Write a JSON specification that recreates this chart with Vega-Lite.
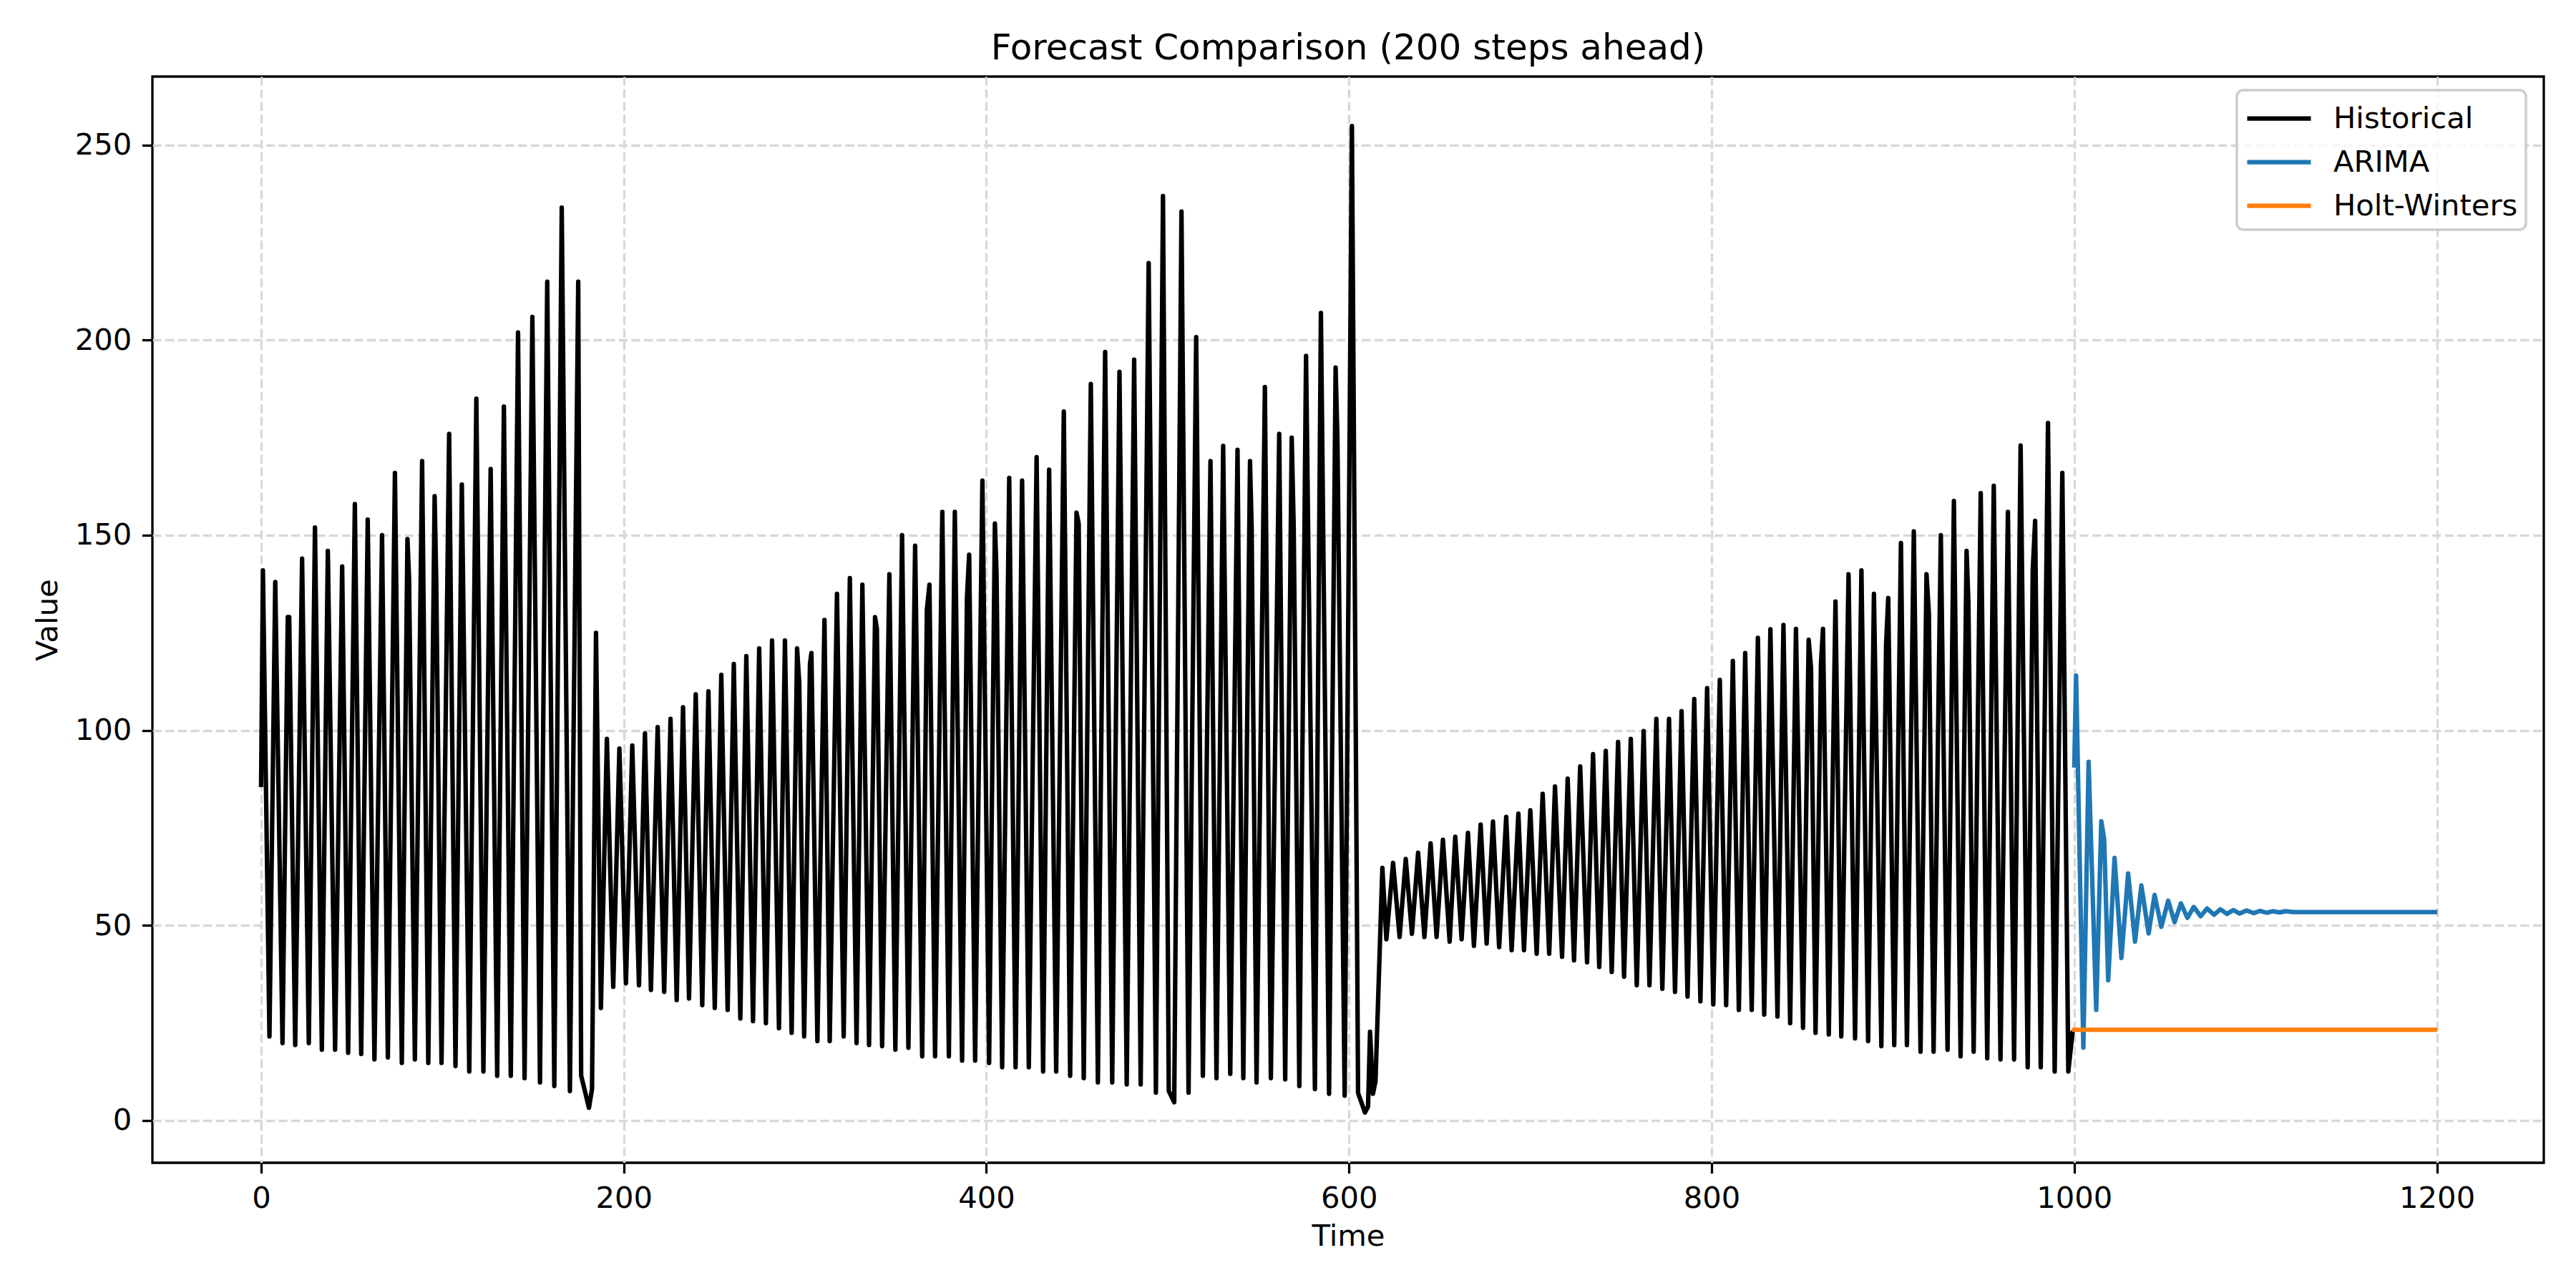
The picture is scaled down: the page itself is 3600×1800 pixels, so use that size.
{
  "$schema": "https://vega.github.io/schema/vega-lite/v6.json",
  "autosize": {"type": "none"},
  "padding": {"left": 213, "top": 107, "right": 45, "bottom": 175},
  "width": 3342,
  "height": 1518,
  "background": "white",
  "title": {
    "text": "Forecast Comparison (200 steps ahead)",
    "fontSize": 50,
    "font": "DejaVu Sans",
    "fontWeight": "normal",
    "color": "black",
    "anchor": "middle",
    "offset": 14
  },
  "layer": [
    {
      "data": {
        "values": [
          {"t": 0, "v": 86}, {"t": 1, "v": 141}, {"t": 4.6, "v": 21.5}, {"t": 7.8, "v": 138},
          {"t": 11.8, "v": 19.8}, {"t": 14.7, "v": 129}, {"t": 15.5, "v": 129}, {"t": 18.8, "v": 19.3},
          {"t": 22.6, "v": 144}, {"t": 26.3, "v": 19.8}, {"t": 29.7, "v": 152}, {"t": 33.5, "v": 18.1},
          {"t": 36.8, "v": 146}, {"t": 40.8, "v": 18.1}, {"t": 44.7, "v": 142}, {"t": 48, "v": 17.3},
          {"t": 51.7, "v": 158}, {"t": 55.2, "v": 17}, {"t": 58.8, "v": 154}, {"t": 62.5, "v": 15.6},
          {"t": 66.7, "v": 150}, {"t": 69.9, "v": 16.1}, {"t": 73.8, "v": 166}, {"t": 77.6, "v": 14.7},
          {"t": 80.7, "v": 149}, {"t": 81.6, "v": 139}, {"t": 84.8, "v": 15.6}, {"t": 88.8, "v": 169},
          {"t": 92.2, "v": 14.7}, {"t": 95.7, "v": 160}, {"t": 96.6, "v": 138}, {"t": 99.5, "v": 14.7},
          {"t": 103.7, "v": 176}, {"t": 107.2, "v": 13.9}, {"t": 110.7, "v": 163}, {"t": 114.8, "v": 12.5},
          {"t": 118.7, "v": 185}, {"t": 122.6, "v": 12.5}, {"t": 126.6, "v": 167}, {"t": 130.2, "v": 11.4},
          {"t": 133.9, "v": 183}, {"t": 137.7, "v": 11.4}, {"t": 141.7, "v": 202}, {"t": 145.3, "v": 10.8},
          {"t": 149.6, "v": 206}, {"t": 153.8, "v": 9.7}, {"t": 157.8, "v": 215}, {"t": 161.7, "v": 8.8},
          {"t": 165.8, "v": 234}, {"t": 170.3, "v": 7.5}, {"t": 174.9, "v": 215}, {"t": 176.5, "v": 11.5},
          {"t": 180.8, "v": 3.2}, {"t": 182.5, "v": 8}, {"t": 184.7, "v": 125}, {"t": 187.4, "v": 28.8},
          {"t": 190.7, "v": 97.8}, {"t": 194.2, "v": 34.2}, {"t": 197.6, "v": 95.3}, {"t": 201.2, "v": 35.1},
          {"t": 204.7, "v": 96.1}, {"t": 208.4, "v": 34.6}, {"t": 211.7, "v": 99.2}, {"t": 215, "v": 33.4},
          {"t": 218.7, "v": 100.8}, {"t": 222.3, "v": 32.9}, {"t": 225.8, "v": 102.9}, {"t": 229.2, "v": 30.8},
          {"t": 232.7, "v": 105.9}, {"t": 236, "v": 31.2}, {"t": 239.7, "v": 109.2}, {"t": 243.3, "v": 29.5},
          {"t": 246.7, "v": 110}, {"t": 250.2, "v": 28.8}, {"t": 253.8, "v": 114.2}, {"t": 257.3, "v": 28.3},
          {"t": 260.7, "v": 117}, {"t": 264.3, "v": 26.1}, {"t": 267.6, "v": 119}, {"t": 271.3, "v": 25.4},
          {"t": 274.7, "v": 121}, {"t": 278.4, "v": 24.9}, {"t": 281.8, "v": 123}, {"t": 285.6, "v": 23.6},
          {"t": 288.9, "v": 123}, {"t": 292.6, "v": 22.4}, {"t": 295.6, "v": 121}, {"t": 296.8, "v": 112},
          {"t": 299.5, "v": 21.5}, {"t": 302.7, "v": 117}, {"t": 303.5, "v": 119.8}, {"t": 306.8, "v": 20.3},
          {"t": 310.7, "v": 128.3}, {"t": 313.6, "v": 20.3}, {"t": 317.6, "v": 135}, {"t": 321.3, "v": 21.5},
          {"t": 324.7, "v": 139}, {"t": 328.4, "v": 19.8}, {"t": 331.6, "v": 137.3}, {"t": 335.3, "v": 19.3},
          {"t": 338.6, "v": 129}, {"t": 339.6, "v": 126}, {"t": 342.5, "v": 19}, {"t": 346.5, "v": 140},
          {"t": 349.8, "v": 18.1}, {"t": 353.5, "v": 150}, {"t": 357, "v": 18.6}, {"t": 360.7, "v": 147.3},
          {"t": 364.6, "v": 16.4}, {"t": 367.2, "v": 131}, {"t": 368.6, "v": 137.3}, {"t": 371.7, "v": 16.4},
          {"t": 375.7, "v": 156}, {"t": 379.3, "v": 16.4}, {"t": 382.6, "v": 156}, {"t": 386.6, "v": 15.3},
          {"t": 389.3, "v": 134}, {"t": 390.5, "v": 145}, {"t": 393.8, "v": 15.3}, {"t": 397.8, "v": 164},
          {"t": 401.5, "v": 14.7}, {"t": 404.7, "v": 153}, {"t": 405.6, "v": 140}, {"t": 408.7, "v": 13.6},
          {"t": 412.6, "v": 164.7}, {"t": 416.1, "v": 13.6}, {"t": 419.7, "v": 164}, {"t": 423.4, "v": 13.6},
          {"t": 427.7, "v": 170}, {"t": 431.3, "v": 12.5}, {"t": 434.6, "v": 166.8}, {"t": 438.5, "v": 12.5},
          {"t": 442.7, "v": 181.7}, {"t": 446.2, "v": 11.4}, {"t": 449.7, "v": 155.8}, {"t": 450.9, "v": 153},
          {"t": 453.7, "v": 10.8}, {"t": 457.6, "v": 188.8}, {"t": 461.5, "v": 9.7}, {"t": 465.5, "v": 197},
          {"t": 469.4, "v": 9.7}, {"t": 473.4, "v": 191.9}, {"t": 477.4, "v": 9.2}, {"t": 481.5, "v": 195},
          {"t": 485.1, "v": 9.2}, {"t": 489.5, "v": 219.8}, {"t": 493.5, "v": 7.1}, {"t": 497.4, "v": 237},
          {"t": 500.6, "v": 7.5}, {"t": 503.6, "v": 4.6}, {"t": 507.6, "v": 233}, {"t": 511.5, "v": 7.1},
          {"t": 515.7, "v": 200.8}, {"t": 519.4, "v": 11.4}, {"t": 523.6, "v": 169}, {"t": 526.9, "v": 10.8},
          {"t": 530.6, "v": 172.9}, {"t": 534.5, "v": 11.9}, {"t": 538.5, "v": 171.9}, {"t": 541.7, "v": 10.8},
          {"t": 545.4, "v": 169}, {"t": 546.3, "v": 152}, {"t": 549, "v": 9.7}, {"t": 553.6, "v": 188},
          {"t": 556.9, "v": 10.8}, {"t": 561.5, "v": 176}, {"t": 564.8, "v": 10.5}, {"t": 568.4, "v": 175},
          {"t": 569.5, "v": 152}, {"t": 572.6, "v": 8.8}, {"t": 576.3, "v": 196}, {"t": 581.2, "v": 8},
          {"t": 584.5, "v": 207}, {"t": 589, "v": 6.8}, {"t": 592.6, "v": 193}, {"t": 593.6, "v": 175},
          {"t": 597.6, "v": 6.3}, {"t": 601.6, "v": 254.9}, {"t": 605, "v": 7}, {"t": 608.8, "v": 2},
          {"t": 610.5, "v": 3.5}, {"t": 611.6, "v": 22.7}, {"t": 613.2, "v": 6.8}, {"t": 614.6, "v": 10},
          {"t": 618.4, "v": 64.7}, {"t": 620.6, "v": 46.4}, {"t": 624.3, "v": 66}, {"t": 627.9, "v": 47},
          {"t": 631.3, "v": 67}, {"t": 634.7, "v": 47.8}, {"t": 638.1, "v": 68.6}, {"t": 641.6, "v": 47},
          {"t": 645, "v": 71}, {"t": 648.3, "v": 47}, {"t": 651.8, "v": 71.9}, {"t": 655.5, "v": 45.8},
          {"t": 658.6, "v": 72.7}, {"t": 662.1, "v": 46.4}, {"t": 665.6, "v": 73.7}, {"t": 668.9, "v": 44.7},
          {"t": 672.6, "v": 75.8}, {"t": 675.9, "v": 45.3}, {"t": 679.4, "v": 76.6}, {"t": 682.8, "v": 44.4},
          {"t": 686.7, "v": 77.8}, {"t": 689.7, "v": 43.6}, {"t": 693.4, "v": 78.6}, {"t": 696.5, "v": 43.6},
          {"t": 700, "v": 79.5}, {"t": 703.5, "v": 42.7}, {"t": 706.8, "v": 83.7}, {"t": 710.4, "v": 42.7},
          {"t": 713.6, "v": 85.6}, {"t": 717.5, "v": 41.9}, {"t": 720.6, "v": 87.6}, {"t": 724.1, "v": 41},
          {"t": 727.5, "v": 90.7}, {"t": 731.3, "v": 40.5}, {"t": 734.6, "v": 93.9}, {"t": 738, "v": 39.3},
          {"t": 741.6, "v": 94.7}, {"t": 744.9, "v": 38}, {"t": 748.4, "v": 97}, {"t": 751.7, "v": 36.8},
          {"t": 755.4, "v": 97.8}, {"t": 758.7, "v": 34.6}, {"t": 762.5, "v": 99.8}, {"t": 765.7, "v": 34.6},
          {"t": 769.5, "v": 102.9}, {"t": 772.8, "v": 33.7}, {"t": 776.5, "v": 102.9}, {"t": 779.8, "v": 32.9},
          {"t": 783.4, "v": 104.9}, {"t": 786.7, "v": 31.7}, {"t": 790.4, "v": 108}, {"t": 793.8, "v": 30.5},
          {"t": 797.5, "v": 110.8}, {"t": 800.9, "v": 29.7}, {"t": 804.5, "v": 112.9}, {"t": 808, "v": 29.5},
          {"t": 811.7, "v": 117.8}, {"t": 815, "v": 28.3}, {"t": 818.5, "v": 119.8}, {"t": 822.1, "v": 28.3},
          {"t": 825.5, "v": 123.7}, {"t": 829, "v": 27.1}, {"t": 832.4, "v": 125.9}, {"t": 836.3, "v": 26.6},
          {"t": 839.6, "v": 127}, {"t": 843.3, "v": 24.9}, {"t": 846.5, "v": 126}, {"t": 850.4, "v": 23.7},
          {"t": 853.5, "v": 123.2}, {"t": 854.8, "v": 116}, {"t": 857.3, "v": 22.4}, {"t": 860.3, "v": 117},
          {"t": 861.4, "v": 126}, {"t": 864.6, "v": 22}, {"t": 868.3, "v": 133}, {"t": 871.5, "v": 21.5},
          {"t": 875.5, "v": 140}, {"t": 879.1, "v": 21}, {"t": 882.6, "v": 141}, {"t": 886.3, "v": 20.3},
          {"t": 889.5, "v": 135}, {"t": 893.6, "v": 19}, {"t": 896.2, "v": 122}, {"t": 897.4, "v": 133.9},
          {"t": 900.7, "v": 19.3}, {"t": 904.4, "v": 148}, {"t": 907.7, "v": 19.3}, {"t": 911.5, "v": 151},
          {"t": 915.2, "v": 17.6}, {"t": 918.5, "v": 140}, {"t": 919.8, "v": 130}, {"t": 922.4, "v": 17.6},
          {"t": 926.4, "v": 150}, {"t": 930.1, "v": 18.1}, {"t": 933.6, "v": 158.8}, {"t": 937.3, "v": 16.4},
          {"t": 940.6, "v": 146}, {"t": 941.6, "v": 133}, {"t": 944.5, "v": 17.6}, {"t": 948.4, "v": 160.8},
          {"t": 952, "v": 15.9}, {"t": 955.6, "v": 162.7}, {"t": 959.3, "v": 15.6}, {"t": 963.4, "v": 156},
          {"t": 966.8, "v": 15.6}, {"t": 970.4, "v": 173}, {"t": 974.3, "v": 13.6}, {"t": 977.1, "v": 141},
          {"t": 978.4, "v": 153.7}, {"t": 981.5, "v": 13.6}, {"t": 985.5, "v": 178.8}, {"t": 989.2, "v": 12.5},
          {"t": 993.4, "v": 166}, {"t": 996.7, "v": 12.5}, {"t": 999, "v": 22.4}
        ]
      },
      "mark": {"type": "line", "strokeWidth": 6.25, "strokeJoin": "round", "strokeCap": "square"},
      "encoding": {
        "x": {"field": "t", "type": "quantitative"},
        "y": {"field": "v", "type": "quantitative"},
        "color": {"datum": "Historical", "type": "nominal"}
      }
    },
    {
      "data": {
        "values": [
          {"t": 1000, "v": 91}, {"t": 1001, "v": 114}, {"t": 1005, "v": 18.6}, {"t": 1007.9, "v": 91.9},
          {"t": 1012.1, "v": 28.3}, {"t": 1014.9, "v": 76.7}, {"t": 1016.5, "v": 72}, {"t": 1018.7, "v": 35.9},
          {"t": 1022.2, "v": 67.3}, {"t": 1026, "v": 41.6}, {"t": 1029.7, "v": 63.3}, {"t": 1033.5, "v": 45.8},
          {"t": 1037, "v": 60.2}, {"t": 1041, "v": 47.9}, {"t": 1044.3, "v": 57.8}, {"t": 1048, "v": 49.6},
          {"t": 1051.8, "v": 56.3}, {"t": 1055.3, "v": 50.8}, {"t": 1058.8, "v": 55.6}, {"t": 1062.4, "v": 51.9},
          {"t": 1065.9, "v": 54.7}, {"t": 1069.7, "v": 52.3}, {"t": 1073.2, "v": 54.3}, {"t": 1077.1, "v": 52.7},
          {"t": 1080.6, "v": 54.1}, {"t": 1084.2, "v": 52.9}, {"t": 1087.7, "v": 53.9}, {"t": 1091.2, "v": 53},
          {"t": 1095, "v": 53.8}, {"t": 1099, "v": 53.1}, {"t": 1102.5, "v": 53.7}, {"t": 1106, "v": 53.2},
          {"t": 1109.5, "v": 53.6}, {"t": 1113.3, "v": 53.3}, {"t": 1116.5, "v": 53.6}, {"t": 1120.5, "v": 53.4},
          {"t": 1199, "v": 53.4}
        ]
      },
      "mark": {"type": "line", "strokeWidth": 6.25, "strokeJoin": "round", "strokeCap": "square"},
      "encoding": {
        "x": {"field": "t", "type": "quantitative"},
        "y": {"field": "v", "type": "quantitative"},
        "color": {"datum": "ARIMA", "type": "nominal"}
      }
    },
    {
      "data": {
        "values": [
          {"t": 1000, "v": 23.2}, {"t": 1199, "v": 23.2}
        ]
      },
      "mark": {"type": "line", "strokeWidth": 6.25, "strokeJoin": "round", "strokeCap": "square"},
      "encoding": {
        "x": {
          "field": "t",
          "type": "quantitative",
          "title": "Time",
          "scale": {"domain": [-59.95, 1258.95], "nice": false, "zero": false},
          "axis": {"values": [0, 200, 400, 600, 800, 1000, 1200], "format": "d", "titlePadding": 12}
        },
        "y": {
          "field": "v",
          "type": "quantitative",
          "title": "Value",
          "scale": {"domain": [-10.9, 267.6], "nice": false, "zero": false},
          "axis": {"values": [0, 50, 100, 150, 200, 250], "format": "d", "titlePadding": 16}
        },
        "color": {
          "datum": "Holt-Winters",
          "type": "nominal",
          "scale": {
            "domain": ["Historical", "ARIMA", "Holt-Winters"],
            "range": ["#000000", "#1f77b4", "#ff7f0e"]
          },
          "legend": {"orient": "none", "legendX": 2913, "legendY": 19, "title": null}
        }
      }
    }
  ],
  "config": {
    "font": "DejaVu Sans",
    "view": {"stroke": "black", "strokeWidth": 3.3},
    "axis": {
      "labelFont": "DejaVu Sans",
      "titleFont": "DejaVu Sans",
      "labelFontSize": 41.7,
      "titleFontSize": 41.7,
      "titleFontWeight": "normal",
      "labelColor": "black",
      "titleColor": "black",
      "domain": false,
      "tickColor": "black",
      "tickWidth": 3.3,
      "tickSize": 14.6,
      "labelPadding": 14.6,
      "grid": true,
      "gridColor": "#d8d8d8",
      "gridWidth": 3.3,
      "gridDash": [12.3, 5.3]
    },
    "legend": {
      "labelFont": "DejaVu Sans",
      "labelFontSize": 41.7,
      "labelColor": "black",
      "labelLimit": 600,
      "symbolType": "M-1,0H2.56",
      "symbolSize": 2500,
      "symbolStrokeWidth": 6.25,
      "labelOffset": 67,
      "rowPadding": 10,
      "padding": 11,
      "strokeColor": "#cccccc",
      "strokeWidth": 3.5,
      "cornerRadius": 9,
      "fillColor": "rgba(255,255,255,0.8)"
    }
  }
}
